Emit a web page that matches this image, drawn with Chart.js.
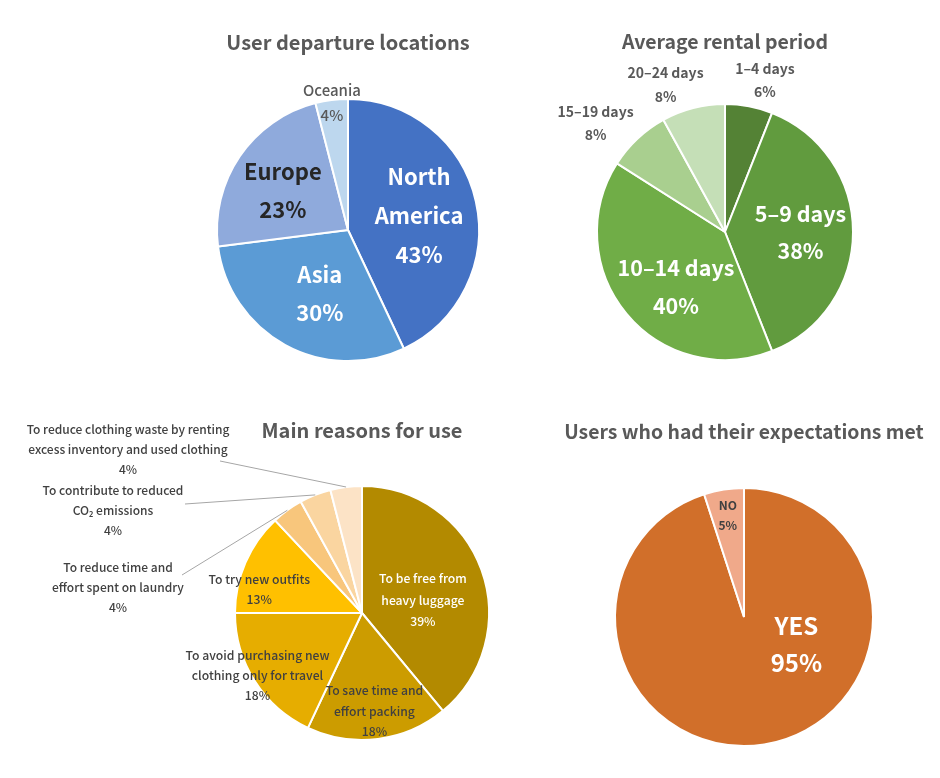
<!DOCTYPE html>
<html>
<head>
<meta charset="utf-8">
<title>Survey pies</title>
<script src="https://cdn.jsdelivr.net/npm/chart.js@4.4.1/dist/chart.umd.min.js"></script>
<style>
  body { margin: 0; background: #fff; }
  #wrap { position: relative; width: 940px; height: 778px; }
  #wrap canvas { position: absolute; left: 0; top: 0; }
</style>
</head>
<body>
<div id="wrap">
  <canvas id="departure" width="940" height="778"></canvas>
  <canvas id="rental" width="940" height="778"></canvas>
  <canvas id="reasons" width="940" height="778"></canvas>
  <canvas id="expectations" width="940" height="778"></canvas>
</div>
<script>
// --- data ---
const departureLabels = ['North America', 'Asia', 'Europe', 'Oceania'];
const departureValues = [43, 30, 23, 4];

const rentalLabels = ['1–4 days', '5–9 days', '10–14 days', '15–19 days', '20–24 days'];
const rentalValues = [6, 38, 40, 8, 8];

const reasonLabels = [
    'To be free from heavy luggage',
    'To save time and effort packing',
    'To avoid purchasing new clothing only for travel',
    'To try new outfits',
    'To reduce time and effort spent on laundry',
    'To contribute to reduced CO₂ emissions',
    'To reduce clothing waste by renting excess inventory and used clothing'
];
const reasonValues = [39, 18, 18, 13, 4, 4, 4];

const expectationLabels = ['YES', 'NO'];
const expectationValues = [95, 5];

// how each category name is broken over lines in the labels
const departureLines = [['North', 'America'], ['Asia'], ['Europe'], ['Oceania']];
const rentalLines = rentalLabels.map(l => [l]);
const reasonLines = [
    ['To be free from', 'heavy luggage'],
    ['To save time and', 'effort packing'],
    ['To avoid purchasing new', 'clothing only for travel'],
    ['To try new outfits'],
    ['To reduce time and', 'effort spent on laundry'],
    ['To contribute to reduced', 'CO₂ emissions'],
    ['To reduce clothing waste by renting', 'excess inventory and used clothing']
];
const expectationLines = [['YES'], ['NO']];

const FONT = '"Noto Sans CJK JP", "Noto Sans", sans-serif';
const W = 940, H = 778;

// title + data labels (and leader lines), placed from the arc geometry
function pieText(cfg) {
    return {
        id: 'pieText',
        afterDatasetsDraw(chart) {
            const ctx = chart.ctx;
            const arcs = chart.getDatasetMeta(0).data;
            const values = chart.data.datasets[0].data;
            const c = arcs[0].getProps(['x', 'y', 'outerRadius'], true);
            ctx.save();
            ctx.textAlign = 'center';
            ctx.textBaseline = 'middle';
            ctx.fillStyle = '#595959';
            ctx.font = `bold ${cfg.titleSize || 20}px ${FONT}`;
            ctx.fillText(cfg.title, c.x, cfg.titleY);

            arcs.forEach((arc, i) => {
                const s = cfg.labels[i];
                const p = arc.getProps(['startAngle', 'endAngle'], true);
                const mid = (p.startAngle + p.endAngle) / 2;
                const a = s.angle != null ? (s.angle - 90) * Math.PI / 180 : mid;
                let x, y;
                if (s.pos) {
                    x = s.pos[0]; y = s.pos[1];
                } else {
                    x = c.x + Math.cos(a) * c.outerRadius * s.factor;
                    y = c.y + Math.sin(a) * c.outerRadius * s.factor;
                }
                if (s.leader) {
                    ctx.beginPath();
                    ctx.strokeStyle = '#a6a6a6';
                    ctx.lineWidth = 1;
                    ctx.moveTo(c.x + Math.cos(mid) * c.outerRadius, c.y + Math.sin(mid) * c.outerRadius);
                    ctx.lineTo(s.leader[0], s.leader[1]);
                    ctx.stroke();
                }
                const lines = cfg.lines[i].concat([values[i] + '%']);
                ctx.font = `${s.weight || 'bold'} ${s.size}px ${FONT}`;
                ctx.fillStyle = s.color;
                const y0 = y - (lines.length - 1) * s.lh / 2;
                lines.forEach((t, k) => ctx.fillText(t, x, y0 + k * s.lh));
            });
            ctx.restore();
        }
    };
}

function makePie(id, labels, values, colors, cx, cy, r, text) {
    const b = 1; // room for the border
    new Chart(document.getElementById(id), {
        type: 'pie',
        data: {
            labels: labels,
            datasets: [{
                data: values,
                backgroundColor: colors,
                borderColor: '#ffffff',
                borderWidth: 2,
                hoverOffset: 0
            }]
        },
        options: {
            responsive: false,
            animation: false,
            events: [],
            layout: {
                padding: {
                    left: cx - r - b,
                    right: W - cx - r - b,
                    top: cy - r - b,
                    bottom: H - cy - r - b
                }
            },
            plugins: {
                legend: { display: false },
                tooltip: { enabled: false }
            }
        },
        plugins: [pieText(text)]
    });
}

makePie('departure', departureLabels, departureValues,
    ['#4472c4', '#5b9bd5', '#8faadc', '#bdd7ee'], 348, 230, 131, {
        title: 'User departure locations', titleY: 42, lines: departureLines,
        labels: [
            { factor: 0.553, angle: 78.8, size: 22, lh: 39, color: '#ffffff' },
            { factor: 0.53, angle: 204, size: 22, lh: 38, color: '#ffffff' },
            { factor: 0.58, angle: 301, size: 22, lh: 38, color: '#262626' },
            { factor: 0.98, size: 15, lh: 25, color: '#595959', weight: '500' }
        ]
    });

makePie('rental', rentalLabels, rentalValues,
    ['#548235', '#619b3e', '#70ad47', '#a9cf8f', '#c5dfb7'], 725, 232, 128, {
        title: 'Average rental period', titleY: 42, titleSize: 19.5, lines: rentalLines,
        labels: [
            { factor: 1.23, angle: 14.7, size: 14, lh: 23, color: '#595959' },
            { factor: 0.59, size: 21.5, lh: 37, color: '#ffffff' },
            { factor: 0.576, angle: 221.7, size: 21.5, lh: 38, color: '#ffffff' },
            { factor: 1.32, angle: 310, size: 14, lh: 23, color: '#595959' },
            { factor: 1.24, angle: 338, size: 14, lh: 24, color: '#595959' }
        ]
    });

makePie('reasons', reasonLabels, reasonValues,
    ['#b38a00', '#cc9c00', '#e6ad00', '#ffc000', '#f8c67c', '#fad5a0', '#fce3c6'], 362, 613, 127, {
        title: 'Main reasons for use', titleY: 430, lines: reasonLines,
        labels: [
            { factor: 0.49, angle: 78, size: 12.2, lh: 21.5, color: '#ffffff', weight: '500' },
            { factor: 0.78, size: 12.2, lh: 20.5, color: '#404040', weight: '500' },
            { factor: 0.96, angle: 239, size: 12.2, lh: 20, color: '#404040', weight: '500' },
            { factor: 0.83, angle: 283, size: 12.2, lh: 20, color: '#404040', weight: '500' },
            { pos: [118, 587], leader: [182, 575], size: 12, lh: 20, color: '#404040', weight: '500' },
            { pos: [113, 510], leader: [185, 504], size: 12, lh: 20, color: '#404040', weight: '500' },
            { pos: [128, 449], leader: [220, 461], size: 12, lh: 20, color: '#404040', weight: '500' }
        ]
    });

makePie('expectations', expectationLabels, expectationValues,
    ['#d16f2a', '#f0a98a'], 744, 617, 129, {
        title: 'Users who had their expectations met', titleY: 432, titleSize: 19.4, lines: expectationLines,
        labels: [
            { factor: 0.46, angle: 118, size: 24, lh: 37, color: '#ffffff' },
            { factor: 0.8, size: 12, lh: 20, color: '#404040' }
        ]
    });
</script>
</body>
</html>
